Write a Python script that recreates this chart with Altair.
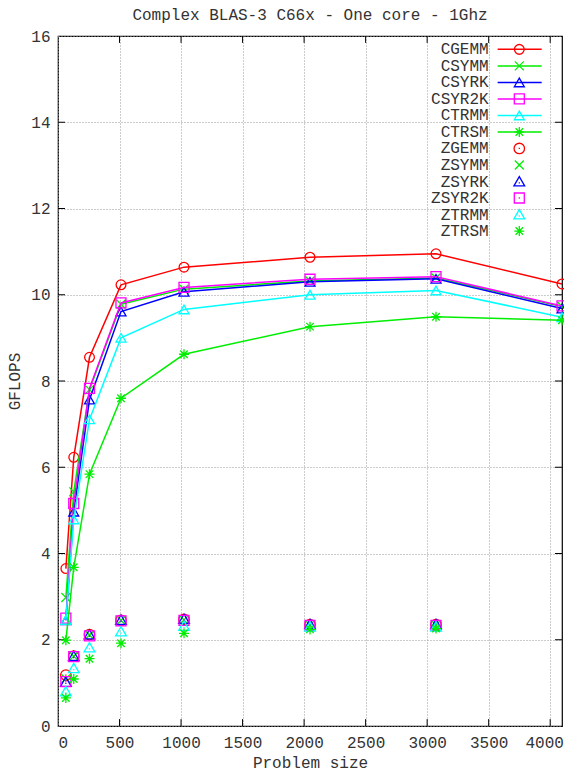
import altair as alt
import pandas as pd

FONT = "Liberation Mono"

sizes = [64, 128, 256, 512, 1024, 2048, 3072, 4096]
z_sizes = [64, 128, 256, 512, 1024, 2048, 3072]

c_names = ["CGEMM", "CSYMM", "CSYRK", "CSYR2K", "CTRMM", "CTRSM"]
z_names = ["ZGEMM", "ZSYMM", "ZSYRK", "ZSYR2K", "ZTRMM", "ZTRSM"]

cgemm = [3.65, 6.23, 8.55, 10.23, 10.64, 10.87, 10.95, 10.25]
csymm = [2.98, 5.43, 7.80, 9.78, 10.13, 10.32, 10.39, 9.73]
csyrk = [2.45, 4.97, 7.57, 9.61, 10.07, 10.30, 10.37, 9.68]
csyr2k = [2.50, 5.16, 7.83, 9.81, 10.17, 10.36, 10.42, 9.74]
ctrmm = [2.46, 4.79, 7.11, 9.00, 9.66, 10.00, 10.10, 9.48]
ctrsm = [1.99, 3.68, 5.84, 7.60, 8.62, 9.26, 9.49, 9.41]

zgemm = [1.18, 1.62, 2.12, 2.45, 2.47, 2.35, 2.35]
zsymm = [1.10, 1.62, 2.11, 2.45, 2.46, 2.34, 2.34]
zsyrk = [1.02, 1.62, 2.12, 2.46, 2.48, 2.36, 2.36]
zsyr2k = [1.03, 1.61, 2.09, 2.44, 2.45, 2.33, 2.33]
ztrmm = [0.80, 1.34, 1.82, 2.19, 2.32, 2.30, 2.30]
ztrsm = [0.65, 1.09, 1.56, 1.92, 2.15, 2.24, 2.26]

c_values = [cgemm, csymm, csyrk, csyr2k, ctrmm, ctrsm]
z_values = [zgemm, zsymm, zsyrk, zsyr2k, ztrmm, ztrsm]

x_ticks = list(range(0, 4001, 500))
y_ticks = list(range(0, 17, 2))

colors = ["#ff0000", "#00ee00", "#0000ff", "#ff00ff", "#00ffff", "#00ee00"]

X_PATH = "M-1,-1L1,1M-1,1L1,-1"
STAR_PATH = "M-1,0L1,0M0,-1L0,1M-0.75,-0.75L0.75,0.75M-0.75,0.75L0.75,-0.75"
c_shapes = ["circle", X_PATH, "triangle-up", "square", "triangle-up", STAR_PATH]
c_sizes = [95, 80, 100, 100, 100, 100]

DOT = "M-0.12,0L0.12,0"
z_shapes = [
    "M-1,0A1,1,0,1,0,1,0A1,1,0,1,0,-1,0Z" + DOT,
    X_PATH,
    "M0,-1L1.1,0.9L-1.1,0.9Z" + "M-0.12,0.3L0.12,0.3",
    "M-1,-1L1,-1L1,1L-1,1Z" + DOT,
    "M0,-1L1.1,0.9L-1.1,0.9Z" + "M-0.12,0.3L0.12,0.3",
    STAR_PATH,
]
z_sizes_sym = [110, 80, 95, 100, 95, 100]

# legend placement (data units)
LEG_TEXT_X = 3500
LEG_LINE_X1 = 3573
LEG_LINE_X2 = 3931
LEG_SYM_X = 3749
LEG_TOP = 15.69
LEG_STEP = 0.383

# inward tick lengths (data units, about 7 px)
TICK_X_LEN = 57
TICK_Y_LEN = 0.16

xscale = alt.Scale(domain=[0, 4096], nice=False)
yscale = alt.Scale(domain=[0, 16], nice=False)

xax = alt.Axis(values=x_ticks, format="d", title="Problem size",
               labelPadding=8, titlePadding=4, grid=True,
               labelOffset={"condition": {"test": "datum.value == 4000", "value": -6},
                            "value": 0})
yax = alt.Axis(values=y_ticks, format="d", title="GFLOPS",
               labelPadding=8, titlePadding=8, grid=True)


def X(field):
    return alt.X(field, scale=xscale, axis=xax)


def Y(field):
    return alt.Y(field, scale=yscale, axis=yax)


layers = []

# inward ticks on all four sides
xt = pd.DataFrame({"v": x_ticks[1:], "b0": 0.0, "b1": TICK_Y_LEN,
                   "t0": 16.0, "t1": 16.0 - TICK_Y_LEN})
yt = pd.DataFrame({"v": y_ticks[1:-1], "l0": 0.0, "l1": float(TICK_X_LEN),
                   "r0": 4096.0, "r1": 4096.0 - TICK_X_LEN})
layers.append(alt.Chart(xt).mark_rule(color="black", strokeWidth=1).encode(
    x=X("v:Q"), y=Y("b0:Q"), y2="b1:Q"))
layers.append(alt.Chart(xt).mark_rule(color="black", strokeWidth=1).encode(
    x=X("v:Q"), y=Y("t0:Q"), y2="t1:Q"))
layers.append(alt.Chart(yt).mark_rule(color="black", strokeWidth=1).encode(
    y=Y("v:Q"), x=X("l0:Q"), x2="l1:Q"))
layers.append(alt.Chart(yt).mark_rule(color="black", strokeWidth=1).encode(
    y=Y("v:Q"), x=X("r0:Q"), x2="r1:Q"))

for name, vals, col, shp, sz in zip(c_names, c_values, colors, c_shapes, c_sizes):
    df = pd.DataFrame({"size": sizes, "gflops": vals, "series": name})
    base = alt.Chart(df)
    layers.append(base.mark_line(color=col, strokeWidth=1.5).encode(
        x=X("size:Q"), y=Y("gflops:Q")))
    layers.append(base.mark_point(shape=shp, size=sz, color=col, filled=False,
                                  strokeWidth=1.3, opacity=1).encode(
        x=X("size:Q"), y=Y("gflops:Q")))

for name, vals, col, shp, sz in zip(z_names, z_values, colors, z_shapes, z_sizes_sym):
    df = pd.DataFrame({"size": z_sizes, "gflops": vals, "series": name})
    layers.append(alt.Chart(df).mark_point(shape=shp, size=sz, color=col, filled=False,
                                           strokeWidth=1.3, opacity=1).encode(
        x=X("size:Q"), y=Y("gflops:Q")))

# legend
all_names = c_names + z_names
leg = pd.DataFrame({
    "label": all_names,
    "ly": [LEG_TOP - i * LEG_STEP for i in range(len(all_names))],
    "tx": LEG_TEXT_X, "lx1": LEG_LINE_X1, "lx2": LEG_LINE_X2, "sx": LEG_SYM_X,
})
layers.append(alt.Chart(leg).mark_text(font=FONT, fontSize=16, align="right",
                                       baseline="middle", color="#333").encode(
    x=X("tx:Q"), y=Y("ly:Q"), text="label:N"))
for i, (name, col, shp, sz) in enumerate(zip(c_names, colors, c_shapes, c_sizes)):
    row = leg.iloc[[i]]
    b = alt.Chart(row)
    layers.append(b.mark_rule(color=col, strokeWidth=1.5).encode(
        x=X("lx1:Q"), x2="lx2:Q", y=Y("ly:Q")))
    layers.append(b.mark_point(shape=shp, size=sz, color=col, filled=False,
                               strokeWidth=1.3, opacity=1).encode(
        x=X("sx:Q"), y=Y("ly:Q")))
for j, (name, col, shp, sz) in enumerate(zip(z_names, colors, z_shapes, z_sizes_sym)):
    row = leg.iloc[[6 + j]]
    layers.append(alt.Chart(row).mark_point(shape=shp, size=sz, color=col, filled=False,
                                            strokeWidth=1.3, opacity=1).encode(
        x=X("sx:Q"), y=Y("ly:Q")))

chart = alt.layer(*layers).properties(
    width=504, height=690,
    title=alt.TitleParams("Complex BLAS-3 C66x - One core - 1Ghz", font=FONT,
                          fontSize=16, fontWeight="normal", color="#333",
                          anchor="middle", offset=5),
    autosize=alt.AutoSizeParams(type="none"),
    padding={"left": 50, "top": 28, "right": 2, "bottom": 45},
).configure_view(stroke="black", strokeWidth=1.2).configure_axis(
    labelFont=FONT, labelFontSize=16, labelColor="#333",
    titleFont=FONT, titleFontSize=16, titleFontWeight="normal", titleColor="#333",
    gridColor="#999999", gridDash=[1, 2], gridWidth=1,
    domain=False, ticks=False,
)

chart.save("out.html", embed_options={"renderer": "svg", "actions": False})
